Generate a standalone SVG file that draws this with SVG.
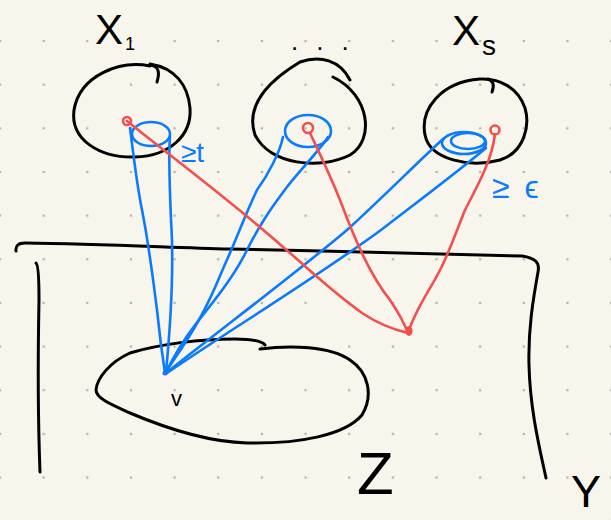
<svg xmlns="http://www.w3.org/2000/svg" width="611" height="520" viewBox="0 0 611 520">
  <defs>
    <pattern id="grid" patternUnits="userSpaceOnUse" x="-21.82" y="19.2" width="43.65" height="43.65">
      <circle cx="21.82" cy="21.82" r="1.3" fill="#b3b2ab"/>
    </pattern>
    <style>
      .ink { fill: none; stroke: #000; stroke-width: 3; stroke-linecap: round; stroke-linejoin: round; }
      .blue { fill: none; stroke: #0a7aff; stroke-width: 2.6; stroke-linecap: round; stroke-linejoin: round; }
      .red { fill: none; stroke: #f24f4f; stroke-width: 2.6; stroke-linecap: round; stroke-linejoin: round; }
      .lbl { font-family: "Liberation Sans", "DejaVu Sans", sans-serif; fill: #000; }
      .blbl { font-family: "Liberation Sans", "DejaVu Sans", sans-serif; fill: #0a7aff; }
    </style>
  </defs>
  <rect width="611" height="520" fill="#f8f6ec"/>
  <rect width="611" height="520" fill="url(#grid)"/>

  <g id="frame-Y">
    <path class="ink" d="M16,251 Q15,243 25,243 C 100,244 160,247 230,249 C 330,251 450,254 522,256 C 535,258 540,262 538,272 C 533,300 528,330 529,365 C 530,410 540,450 546,478"/>
    <path class="ink" d="M36,263 Q39,265 39,300 C 38,350 38,420 40,472"/>
    <text class="lbl" x="571" y="507" font-size="45">Y</text>
  </g>

  <g id="node-Z">
    <path class="ink" d="M260,349 C 290,345 330,346 350,360 C 368,372 374,395 362,415 C 345,435 300,444 247,443 C 210,442 170,430 130,413 C 110,404 96,398 96,390 C 97,378 110,362 130,353 C 160,344 200,339 235,339 C 250,339 262,341 265,345"/>
    <text class="lbl" x="171" y="406" font-size="22">v</text>
    <text class="lbl" x="357" y="494" font-size="60">Z</text>
  </g>

  <g id="node-X1">
    <path class="ink" d="M150,66 C 120,60 80,75 74,110 C 70,140 100,158 135,157 C 170,156 192,135 190,108 C 188,85 175,68 150,64"/>
    <path class="ink" d="M150,65 Q162,66 157,82"/>
    <text class="lbl" x="95" y="44" font-size="42">X<tspan font-size="18" dx="2" dy="6">1</tspan></text>
  </g>

  <g id="node-dots">
    <path class="ink" d="M333,77 C 370,95 375,140 350,155 C 320,170 270,165 255,135 C 245,105 270,80 300,62 C 320,55 340,60 350,80"/>
    <text class="lbl" x="291" y="50" font-size="26" letter-spacing="18">...</text>
  </g>

  <g id="node-Xs">
    <path class="ink" d="M480,79 C 440,82 420,110 425,135 C 430,160 470,168 500,160 C 525,152 530,125 525,108 C 518,88 500,78 480,79"/>
    <path class="ink" d="M488,79 Q496,82 492,92"/>
    <text class="lbl" x="452" y="45" font-size="42">X<tspan font-size="28" dx="2" dy="10">s</tspan></text>
  </g>

  <g id="connectors">
    <ellipse class="blue" cx="151" cy="134" rx="19" ry="12"/>
    <ellipse class="blue" cx="308" cy="131" rx="23" ry="16"/>
    <ellipse class="blue" cx="464" cy="143" rx="22" ry="11"/>
    <ellipse class="blue" cx="468" cy="141" rx="17" ry="8"/>
    <path class="blue" d="M130,128 C 133,150 136,180 142,210 C 148,240 152,270 157,310 C 160,340 163,360 165,373"/>
    <path class="blue" d="M170,136 C 168,160 170,200 172,240 C 173,280 171,320 166,372"/>
    <path class="blue" d="M283,137 C 280,152 268,175 257,190 C 245,215 236,240 226,262 C 218,280 212,297 200,318 C 188,340 175,358 165,373"/>
    <path class="blue" d="M328,137 C 320,150 300,170 287,187 C 275,203 262,220 247,250 C 235,275 215,300 195,325 C 182,342 172,360 166,372"/>
    <path class="blue" d="M443,139 C 420,160 380,200 347,230 C 300,270 220,330 166,373"/>
    <path class="blue" d="M486,148 C 460,170 420,200 381,230 C 320,275 230,330 167,373"/>
    <circle cx="165" cy="373" r="2.5" fill="#0a7aff"/>
    <path class="red" d="M127,121 C 160,148 230,200 283,247 C 310,270 330,290 362,313 C 380,325 395,330 408,333"/>
    <path class="red" d="M310,133 C 318,150 330,175 340,200 C 355,240 370,275 390,300 C 400,315 405,325 408,333"/>
    <path class="red" d="M495,134 C 492,160 478,185 465,210 C 455,235 448,255 440,270 C 430,290 415,310 408,333"/>
    <circle class="red" cx="127" cy="121" r="4"/>
    <circle class="red" cx="308" cy="128" r="5"/>
    <circle class="red" cx="495" cy="130" r="4.5"/>
    <ellipse cx="409" cy="331" rx="3.5" ry="5" fill="#f24f4f"/>
    <text class="blbl" x="181" y="162" font-size="28">≥t</text>
    <text class="blbl" x="492" y="198" font-size="32" letter-spacing="3">≥ ϵ</text>
  </g>
</svg>
